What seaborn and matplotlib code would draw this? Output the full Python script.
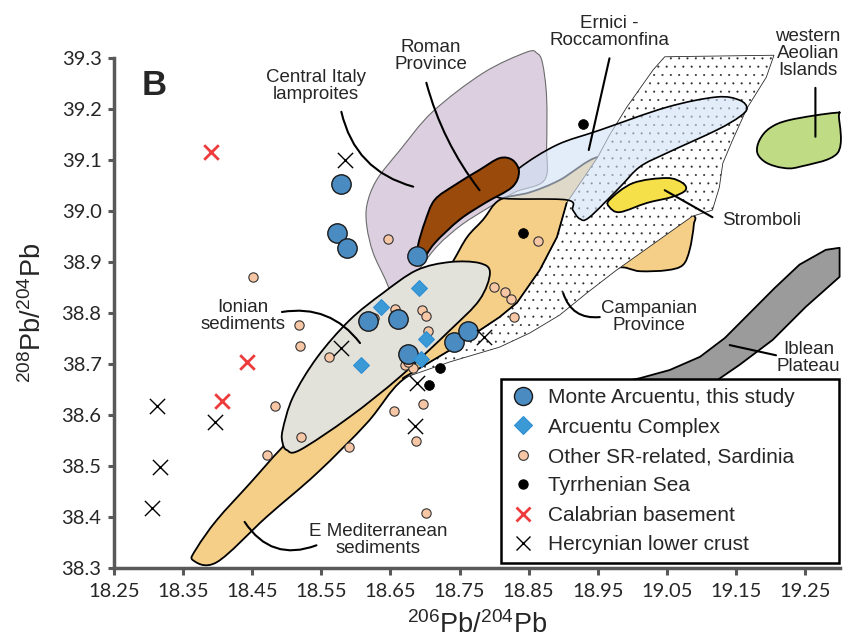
import numpy as np
import pandas as pd
import matplotlib
matplotlib.use("Agg")
import matplotlib.pyplot as plt
from matplotlib.path import Path
from matplotlib.patches import PathPatch, Polygon
from matplotlib.lines import Line2D
import seaborn as sns

# ---------------- data (206Pb/204Pb, 208Pb/204Pb) ----------------
arcuentu_x = [18.578, 18.573, 18.587, 18.688, 18.617, 18.661, 18.675, 18.742, 18.762]
arcuentu_y = [39.053, 38.957, 38.928, 38.912, 38.784, 38.788, 38.719, 38.744, 38.764]

complex_x = [18.692, 18.637, 18.701, 18.607, 18.694]
complex_y = [38.850, 38.812, 38.748, 38.698, 38.710]

sardinia_x = [18.451, 18.518, 18.519, 18.561, 18.656, 18.696, 18.701, 18.704, 18.671, 18.683,
              18.676, 18.483, 18.655, 18.697, 18.687, 18.590, 18.521, 18.472, 18.701, 18.800,
              18.646, 18.863, 18.816, 18.824, 18.829, 18.626]
sardinia_y = [38.871, 38.776, 38.735, 38.714, 38.807, 38.806, 38.794, 38.765, 38.698, 38.692,
              38.703, 38.618, 38.608, 38.621, 38.549, 38.536, 38.557, 38.521, 38.408, 38.852,
              38.945, 38.942, 38.842, 38.827, 38.793, 38.790]

tyrrhenian_x = [18.928, 18.842, 18.722, 18.706]
tyrrhenian_y = [39.172, 38.958, 38.693, 38.658]

calabrian_x = [18.390, 18.442, 18.406]
calabrian_y = [39.117, 38.704, 38.628]

hercynian_x = [18.584, 18.579, 18.312, 18.396, 18.317, 18.305, 18.688, 18.685, 18.786]
hercynian_y = [39.100, 38.731, 38.618, 38.587, 38.498, 38.418, 38.662, 38.579, 38.752]

legend_labels = ["Monte Arcuentu, this study", "Arcuentu Complex",
                 "Other SR-related, Sardinia", "Tyrrhenian Sea",
                 "Calabrian basement", "Hercynian lower crust"]

xticks = [18.25, 18.35, 18.45, 18.55, 18.65, 18.75, 18.85, 18.95, 19.05, 19.15, 19.25]
yticks = [38.3, 38.4, 38.5, 38.6, 38.7, 38.8, 38.9, 39.0, 39.1, 39.2, 39.3]

# ---------------- reference fields (outlines in data units) ----------------
lamp_x = [18.656, 18.643, 18.625, 18.616, 18.616, 18.630, 18.664, 18.711, 18.784, 18.847, 18.862,
          18.870, 18.876, 18.876, 18.873, 18.830, 18.791, 18.753, 18.719, 18.693, 18.671]
lamp_y = [38.826, 38.865, 38.918, 38.969, 39.012, 39.061, 39.120, 39.195, 39.271, 39.312, 39.310,
          39.291, 39.224, 39.126, 39.061, 39.037, 39.006, 38.973, 38.933, 38.888, 38.841]

roman_x = [18.688, 18.690, 18.700, 18.714, 18.743, 18.779, 18.808, 18.827, 18.836, 18.826,
           18.787, 18.750, 18.714, 18.695]
roman_y = [38.900, 38.933, 38.979, 39.022, 39.051, 39.081, 39.104, 39.100, 39.077, 39.047,
           39.016, 38.983, 38.937, 38.900]

ernici_x = [18.808, 18.816, 18.837, 18.891, 18.953, 19.050, 19.122, 19.155, 19.166, 19.155,
            19.122, 19.050, 19.011, 18.982, 18.938, 18.924, 18.914, 18.905]
ernici_y = [39.026, 39.051, 39.085, 39.130, 39.159, 39.204, 39.224, 39.218, 39.202, 39.185,
            39.159, 39.114, 39.087, 39.047, 38.988, 38.985, 39.002, 39.022]

camp_x = [18.668, 18.736, 18.808, 18.833, 18.866, 18.891, 18.905, 18.950, 18.967, 18.992,
          19.030, 19.047, 19.205, 19.194, 19.166, 19.145, 19.131, 19.126, 19.116, 19.087,
          19.032, 18.977, 18.934, 18.895, 18.852, 18.808, 18.736]
camp_y = [38.672, 38.727, 38.792, 38.820, 38.884, 38.949, 39.016, 39.106, 39.149, 39.204,
          39.277, 39.303, 39.306, 39.263, 39.202, 39.139, 39.094, 39.047, 39.002, 38.990,
          38.937, 38.884, 38.839, 38.796, 38.761, 38.733, 38.704]

emed_x = [18.364, 18.399, 18.471, 18.544, 18.616, 18.668, 18.736, 18.808, 18.852, 18.895,
          18.934, 18.977, 19.011, 19.050, 19.073, 19.083, 19.089, 19.087, 19.040, 18.982,
          18.950, 18.895, 18.852, 18.808, 18.784, 18.761, 18.740, 18.707, 18.635, 18.562,
          18.494, 18.447, 18.399, 18.370]
emed_y = [38.315, 38.311, 38.400, 38.486, 38.584, 38.669, 38.712, 38.741, 38.771, 38.806,
          38.845, 38.888, 38.882, 38.884, 38.894, 38.924, 38.973, 38.994, 39.032, 39.081,
          39.106, 39.061, 39.037, 39.022, 38.983, 38.949, 38.900, 38.826, 38.723, 38.629,
          38.537, 38.466, 38.394, 38.339]

ionian_x = [18.494, 18.500, 18.519, 18.591, 18.664, 18.736, 18.779, 18.794, 18.779, 18.736,
            18.688, 18.639, 18.591, 18.544, 18.509, 18.494]
ionian_y = [38.545, 38.531, 38.531, 38.596, 38.675, 38.766, 38.826, 38.879, 38.898, 38.900,
            38.884, 38.839, 38.786, 38.713, 38.635, 38.570]

strom_x = [18.967, 19.001, 19.050, 19.073, 19.077, 19.058, 19.021, 18.982, 18.967]
strom_y = [39.022, 39.055, 39.065, 39.055, 39.041, 39.028, 39.016, 38.998, 39.008]

aeol_x = [19.181, 19.184, 19.199, 19.228, 19.294, 19.299, 19.297, 19.242, 19.218, 19.194]
aeol_y = [39.114, 39.139, 39.163, 39.179, 39.193, 39.185, 39.114, 39.087, 39.085, 39.095]

ible_x = [19.300, 19.280, 19.242, 19.206, 19.170, 19.134, 19.098, 19.054, 19.011, 18.975,
          18.953, 19.083, 19.098, 19.155, 19.203, 19.251, 19.300]
ible_y = [38.928, 38.924, 38.895, 38.849, 38.800, 38.751, 38.714, 38.688, 38.672, 38.662,
          38.620, 38.620, 38.645, 38.698, 38.747, 38.812, 38.871]

# field labels: text, text position, leader start, leader end, curvature
field_labels = ["Central Italy\nlamproites", "Roman\nProvince", "Ernici -\nRoccamonfina",
                "western\nAeolian\nIslands", "Stromboli", "Campanian\nProvince",
                "Iblean\nPlateau", "Ionian\nsediments", "E Mediterranean\nsediments"]
label_x = [18.542, 18.708, 18.967, 19.254, 19.187, 19.024, 19.255, 18.437, 18.632]
label_y = [39.246, 39.305, 39.352, 39.310, 38.981, 38.792, 38.712, 38.794, 38.355]
lead_x0 = [18.579, 18.702, 18.967, 19.265, 19.047, 18.900, 19.141, 18.493, 18.439]
lead_y0 = [39.195, 39.252, 39.300, 39.242, 39.041, 38.839, 38.737, 38.802, 38.390]
lead_x1 = [18.683, 18.779, 18.937, 19.265, 19.116, 18.953, 19.208, 18.606, 18.543]
lead_y1 = [39.048, 39.041, 39.120, 39.146, 38.988, 38.792, 38.717, 38.741, 38.344]
lead_rad = [0.3, 0.1, 0.0, 0.0, 0.0, 0.4, 0.0, -0.3, 0.4]

# ---------------- styling ----------------
sns.set_style("white")
plt.rcParams["font.family"] = ["Liberation Sans", "DejaVu Sans"]
plt.rcParams["mathtext.default"] = "regular"
plt.rcParams["hatch.linewidth"] = 0.25

BLUE = "#4a8bc2"
DIAM = "#3b9ad6"
PEACH = "#f6c6a5"

fig = plt.figure(figsize=(8.47, 6.44), dpi=100)
ax = fig.add_axes([114 / 847, 1 - 567.7 / 644, 725.6 / 847, 509.4 / 644])
ax.set_xlim(18.25, 19.30)
ax.set_ylim(38.3, 39.3)


def smooth_path(xs, ys):
    P = np.column_stack([xs, ys]).astype(float)
    n = len(P)
    verts = [P[0]]
    codes = [Path.MOVETO]
    for i in range(n):
        p0, p1, p2, p3 = P[(i - 1) % n], P[i], P[(i + 1) % n], P[(i + 2) % n]
        verts += [p1 + (p2 - p0) / 6, p2 - (p3 - p1) / 6, p2]
        codes += [Path.CURVE4] * 3
    verts.append(P[0])
    codes.append(Path.CLOSEPOLY)
    return Path(verts, codes)


def field(xs, ys, fc, ec, lw, z, smooth=True, **kw):
    if smooth:
        p = PathPatch(smooth_path(xs, ys), facecolor=fc, edgecolor=ec, lw=lw,
                      zorder=z, clip_on=False, **kw)
    else:
        p = Polygon(np.column_stack([xs, ys]), closed=True, facecolor=fc, edgecolor=ec,
                    lw=lw, zorder=z, clip_on=False, joinstyle="round", **kw)
    ax.add_patch(p)


field(lamp_x, lamp_y, "#dccfe0", "#6b6b6b", 0.8, 1.0)
field(emed_x, emed_y, "#f5cf88", "black", 1.3, 1.2)
field(camp_x, camp_y, "white", "#2a2a2a", 0.6, 1.4, smooth=False, hatch="..")
ax.plot(camp_x[:7], camp_y[:7], color="black", lw=1.3, zorder=1.45, solid_capstyle="round")
field(ionian_x, ionian_y, "#e3e2da", "black", 1.3, 1.6)
field(ernici_x, ernici_y, (0.82, 0.88, 0.96, 0.6), "black", 1.2, 1.8)
field(roman_x, roman_y, "#9a4a0b", "black", 1.4, 2.0)
field(strom_x, strom_y, "#f6e04a", "black", 1.3, 2.0)
field(aeol_x, aeol_y, "#bfdc85", "black", 1.3, 2.0)
field(ible_x, ible_y, "#9b9b9b", "black", 1.3, 2.0, smooth=False)

for t, tx, ty, x0, y0, x1, y1, r in zip(field_labels, label_x, label_y, lead_x0, lead_y0,
                                        lead_x1, lead_y1, lead_rad):
    ax.text(tx, ty, t, ha="center", va="center", fontsize=13.5, linespacing=1.0,
            zorder=2.6, clip_on=False)
    ax.annotate("", xy=(x1, y1), xytext=(x0, y0), annotation_clip=False, zorder=2.5,
                arrowprops=dict(arrowstyle="-", color="black", lw=1.5, shrinkA=0, shrinkB=0,
                                connectionstyle=f"arc3,rad={r}"))

ax.text(18.308, 39.247, "B", fontsize=25, fontweight="bold", ha="center", va="center", zorder=3)

# ---------------- points ----------------
sns.scatterplot(x=sardinia_x, y=sardinia_y, ax=ax, s=45, color=PEACH, edgecolor="#333333",
                linewidth=0.8, zorder=3.0, legend=False)
sns.scatterplot(x=arcuentu_x, y=arcuentu_y, ax=ax, s=195, color=BLUE, edgecolor="#1a1a1a",
                linewidth=1.0, zorder=3.2, legend=False)
sns.scatterplot(x=complex_x, y=complex_y, ax=ax, s=65, marker="D", color=DIAM,
                edgecolor="#2f90d4", linewidth=0.8, zorder=3.4, legend=False)
sns.scatterplot(x=tyrrhenian_x, y=tyrrhenian_y, ax=ax, s=50, color="black", edgecolor="black",
                linewidth=0.5, zorder=3.5, legend=False)
sns.scatterplot(x=calabrian_x, y=calabrian_y, ax=ax, s=110, marker="x", color="#ee3b3b",
                linewidth=2.0, zorder=3.6, legend=False)
sns.scatterplot(x=hercynian_x, y=hercynian_y, ax=ax, s=120, marker="x", color="black",
                linewidth=1.0, zorder=3.6, legend=False)

# ---------------- axes ----------------
sns.despine(ax=ax)
for s in ["left", "bottom"]:
    ax.spines[s].set_color("#595959")
    ax.spines[s].set_linewidth(2.5)
ax.set_xticks(xticks)
ax.set_xticklabels([f"{v:.2f}" for v in xticks])
ax.set_yticks(yticks)
ax.set_yticklabels([f"{v:.1f}" for v in yticks])
ax.tick_params(axis="x", direction="out", length=5, width=2.2, color="#595959",
               labelsize=14.5, pad=6, labelfontfamily="Lato", bottom=True)
ax.tick_params(axis="y", direction="out", length=4, width=2.2, color="#595959",
               labelsize=14.5, pad=5, labelfontfamily="Lato", left=True)

ax.set_xlabel(r"$^{206}$Pb/$^{204}$Pb", fontsize=19.5)
ax.set_ylabel(r"$^{208}$Pb/$^{204}$Pb", fontsize=19.5)
ax.xaxis.set_label_coords(0.5, -0.085)
ax.yaxis.set_label_coords(-0.093, 0.5)

# ---------------- legend ----------------
handles = [
    Line2D([], [], ls="", marker="o", markersize=13, markerfacecolor=BLUE,
           markeredgecolor="#1a1a1a", markeredgewidth=1.0),
    Line2D([], [], ls="", marker="D", markersize=9, markerfacecolor=DIAM,
           markeredgecolor="#2f90d4", markeredgewidth=0.8),
    Line2D([], [], ls="", marker="o", markersize=7, markerfacecolor=PEACH,
           markeredgecolor="#333333", markeredgewidth=0.8),
    Line2D([], [], ls="", marker="o", markersize=6.5, markerfacecolor="black",
           markeredgecolor="black"),
    Line2D([], [], ls="", marker="x", markersize=10, color="#ee3b3b", markeredgewidth=2.0),
    Line2D([], [], ls="", marker="x", markersize=10, color="black", markeredgewidth=1.0),
]
leg = ax.legend(handles, legend_labels, loc="lower left",
                bbox_to_anchor=(0.5334, 0.0092, 0.4658, 0.36), mode="expand",
                borderaxespad=0, frameon=True, fancybox=False, framealpha=1,
                edgecolor="black", fontsize=15, labelspacing=0.5, handlelength=1.3,
                handletextpad=0.55, borderpad=0.42)
leg.get_frame().set_linewidth(1.8)
leg.set_zorder(10)

fig.savefig("out.png", dpi=100)
